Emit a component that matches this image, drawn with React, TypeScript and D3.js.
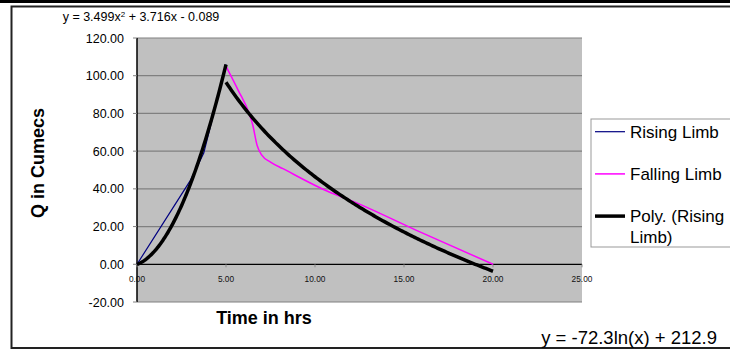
import React from "react";
import * as d3 from "d3";

// hydrograph readings (time in hrs, Q in cumecs)
const risingTime = [0, 3, 3.75, 5];
const risingQ = [0, 44.5, 59, 106];
const fallingTime = [5, 5.7, 6.3, 6.5, 6.75, 7, 7.5, 8.2, 10.8, 12, 15.7, 20];
const fallingQ = [105, 92, 80, 74, 63, 58, 54.2, 50.7, 38.3, 33.9, 18, 0];

// trendline coefficients as printed on the chart
const polyCoef = [3.499, 3.716, -0.089];
const logCoef = [-72.3, 212.9];
const polyRange = [0, 5];
const logRange = [5, 20];

const yTicks = [-20, 0, 20, 40, 60, 80, 100, 120];
const xTicks = [0, 5, 10, 15, 20, 25];

const legendItems = [
  { label: ["Rising Limb"], color: "#000080", width: 1.2 },
  { label: ["Falling Limb"], color: "#ff00ff", width: 1.5 },
  { label: ["Poly. (Rising", "Limb)"], color: "#000000", width: 3.5 },
];

const W = 730;
const H = 352;
const font = "'Liberation Sans', Arial, sans-serif";

export default function App() {
  const x = d3.scaleLinear().domain([0, 25]).range([137, 582]);
  const y = d3.scaleLinear().domain([-20, 120]).range([302, 38]);

  const line = d3
    .line<[number, number]>()
    .x((d) => x(d[0]))
    .y((d) => y(d[1]));

  const rising = risingTime.map((t, i) => [t, risingQ[i]] as [number, number]);
  const falling = fallingTime.map((t, i) => [t, fallingQ[i]] as [number, number]);

  const polySteps = d3.range(polyRange[0], polyRange[1] + 0.001, 0.05);
  const poly = polySteps.map(
    (t) => [t, polyCoef[0] * t * t + polyCoef[1] * t + polyCoef[2]] as [number, number]
  );
  const logSteps = d3.range(logRange[0], logRange[1] + 0.001, 0.1);
  const logFit = logSteps.map(
    (t) => [t, logCoef[0] * Math.log(t) + logCoef[1]] as [number, number]
  );

  const fallingPath = d3
    .line<[number, number]>()
    .x((d) => x(d[0]))
    .y((d) => y(d[1]))
    .curve(d3.curveMonotoneX)(falling);

  return (
    <svg
      width={W}
      height={H}
      style={{ position: "absolute", left: 0, top: 0, background: "#fff" }}
      fontFamily={font}
    >
      {/* page frame */}
      <rect x={0} y={0} width={W} height={3} fill="#000" />
      <path d={`M${W + 5},6.5 H11.5 V348 H${W + 5}`} fill="none" stroke="#222" strokeWidth={2} />

      {/* plot area */}
      <rect x={x(0)} y={y(120)} width={x(25) - x(0)} height={y(-20) - y(120)} fill="#c0c0c0" />
      {yTicks.filter((v) => v !== 0).map((v) => (
        <line key={v} x1={x(0)} x2={x(25)} y1={y(v)} y2={y(v)} stroke="#808080" strokeWidth={1.2} />
      ))}

      {/* y axis */}
      <line x1={x(0)} x2={x(0)} y1={y(120)} y2={y(-20)} stroke="#000" strokeWidth={1.5} />
      {yTicks.map((v) => (
        <g key={v}>
          <line x1={x(0) - 4} x2={x(0)} y1={y(v)} y2={y(v)} stroke="#808080" />
          <text x={124} y={y(v) + 4.5} textAnchor="end" fontSize={12.5} fill="#000">
            {v.toFixed(2)}
          </text>
        </g>
      ))}

      {/* x axis at zero */}
      <line x1={x(0)} x2={x(25)} y1={y(0)} y2={y(0)} stroke="#000" strokeWidth={1.3} />
      {xTicks.map((v) => (
        <g key={v}>
          <line x1={x(v)} x2={x(v)} y1={y(0)} y2={y(0) + 3} stroke="#8a8a8a" />
          <text x={x(v)} y={282} textAnchor="middle" fontSize={8.3} fill="#111">
            {v.toFixed(2)}
          </text>
        </g>
      ))}

      {/* series */}
      <path d={line(rising) ?? ""} fill="none" stroke="#000080" strokeWidth={1.2} />
      <path d={fallingPath ?? ""} fill="none" stroke="#ff00ff" strokeWidth={1.5} />
      <path d={line(poly) ?? ""} fill="none" stroke="#000" strokeWidth={3.5} />
      <path d={line(logFit) ?? ""} fill="none" stroke="#000" strokeWidth={3.5} />

      {/* axis titles */}
      <text
        transform={`translate(44,163) rotate(-90)`}
        textAnchor="middle"
        fontSize={18}
        fontWeight="bold"
      >
        Q in Cumecs
      </text>
      <text x={264} y={324} textAnchor="middle" fontSize={18} fontWeight="bold">
        Time in hrs
      </text>

      {/* trendline equations */}
      <text x={141} y={21} textAnchor="middle" fontSize={12.5}>
        y = 3.499x<tspan dy={-4} fontSize={8}>2</tspan>
        <tspan dy={4}> + 3.716x - 0.089</tspan>
      </text>
      <text x={717} y={344} textAnchor="end" fontSize={18.5}>
        y = -72.3ln(x) + 212.9
      </text>

      {/* legend */}
      <rect x={591} y={119} width={150} height={128} fill="#fff" stroke="#999" strokeWidth={1} />
      {legendItems.map((item, i) => {
        const cy = 131.7 + i * 42.2;
        return (
          <g key={i}>
            <line x1={595} x2={625} y1={cy} y2={cy} stroke={item.color} strokeWidth={item.width} />
            {item.label.map((t, j) => (
              <text key={j} x={630} y={cy + 6 + j * 21} fontSize={17}>
                {t}
              </text>
            ))}
          </g>
        );
      })}
    </svg>
  );
}
